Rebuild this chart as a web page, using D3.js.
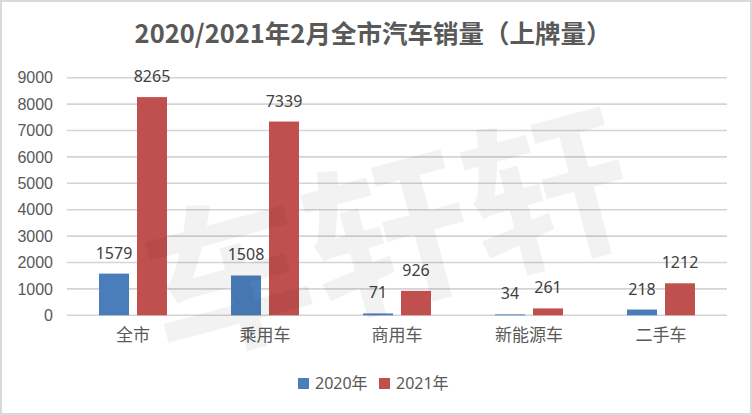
<!doctype html>
<html>
<head>
  <meta charset="utf-8">
  <title>2020/2021年2月全市汽车销量</title>
  <script src="https://cdnjs.cloudflare.com/ajax/libs/d3/7.8.5/d3.min.js"></script>
  <style>
    html, body { margin: 0; padding: 0; background: #fff; }
    svg { display: block; font-family: 'Noto Sans', 'Noto Sans CJK SC', sans-serif; }
    .y-axis text { fill: #595959; font-size: 16px; }
    .x-axis text { fill: #595959; font-size: 17px; font-family: 'Noto Sans CJK SC', sans-serif; }
    .value { fill: #404040; font-size: 16px; }
    .legend text { fill: #595959; font-size: 16px; }
  </style>
</head>
<body>
  <div id="chart"></div>
  <script>
    // data
    var categories = ['全市', '乘用车', '商用车', '新能源车', '二手车'];
    var series = ['2020年', '2021年'];
    var values2020 = [1579, 1508, 71, 34, 218];
    var values2021 = [8265, 7339, 926, 261, 1212];
    var yTicks = [0, 1000, 2000, 3000, 4000, 5000, 6000, 7000, 8000, 9000];
    var colors = ['#4a7ebb', '#c0504d'];

    var width = 752, height = 415;
    var margin = { top: 77, right: 25, bottom: 99, left: 67 };

    var rows = [];
    categories.forEach(function (c, i) {
      rows.push({ cat: c, s: series[0], v: values2020[i] });
      rows.push({ cat: c, s: series[1], v: values2021[i] });
    });

    var svg = d3.select('#chart').append('svg')
      .attr('width', width).attr('height', height);

    // frame
    svg.append('rect')
      .attr('x', 1).attr('y', 1)
      .attr('width', width - 2).attr('height', height - 2)
      .attr('fill', '#fff').attr('stroke', '#d9d9d9').attr('stroke-width', 2);

    var x0 = d3.scaleBand().domain(categories)
      .range([margin.left, width - margin.right])
      .paddingInner(0.485).paddingOuter(0.2425);
    var x1 = d3.scaleBand().domain(series)
      .range([0, x0.bandwidth()]).paddingInner(0.21);
    var y = d3.scaleLinear().domain([0, 9000])
      .range([height - margin.bottom - 0.7, margin.top + 0.7]);

    // gridlines
    svg.append('g').selectAll('line')
      .data(yTicks).join('line')
      .attr('x1', margin.left).attr('x2', width - margin.right)
      .attr('y1', d => y(d)).attr('y2', d => y(d))
      .attr('stroke', '#d4d4d4').attr('stroke-width', 1.6);

    // y axis
    svg.append('g').attr('class', 'y-axis')
      .attr('transform', 'translate(' + (margin.left - 9) + ',0)')
      .call(d3.axisLeft(y).tickValues(yTicks).tickFormat(d3.format('d')).tickSize(0).tickPadding(5))
      .call(g => g.select('.domain').remove());

    // x axis
    svg.append('g').attr('class', 'x-axis')
      .attr('transform', 'translate(0,' + (height - margin.bottom) + ')')
      .call(d3.axisBottom(x0).tickSize(0).tickPadding(13))
      .call(g => g.select('.domain').remove());

    // bars
    svg.append('g').selectAll('rect')
      .data(rows).join('rect')
      .attr('x', d => x0(d.cat) + x1(d.s))
      .attr('width', x1.bandwidth())
      .attr('y', d => y(d.v))
      .attr('height', d => y(0) - y(d.v))
      .attr('fill', d => colors[series.indexOf(d.s)]);

    // value labels
    svg.append('g').selectAll('text')
      .data(rows).join('text')
      .attr('class', 'value')
      .attr('x', d => x0(d.cat) + x1(d.s) + x1.bandwidth() / 2)
      .attr('y', d => y(d.v) - 15)
      .attr('text-anchor', 'middle')
      .text(d => d.v);

    // title
    svg.append('text')
      .attr('x', 373).attr('y', 43)
      .attr('text-anchor', 'middle')
      .attr('font-family', "'Noto Sans CJK SC', sans-serif")
      .attr('font-weight', 'bold')
      .attr('font-size', 25.5)
      .attr('fill', '#595959')
      .text('2020/2021年2月全市汽车销量（上牌量）');

    // legend
    var legend = svg.append('g').attr('class', 'legend')
      .attr('transform', 'translate(298,378)');
    var legendX = [0, 81];
    series.forEach(function (s, i) {
      var g = legend.append('g').attr('transform', 'translate(' + legendX[i] + ',0)');
      g.append('rect').attr('width', 11).attr('height', 11).attr('fill', colors[i]);
      g.append('text').attr('x', 17).attr('y', 11).text(s);
    });

    // watermark
    svg.append('text')
      .attr('transform', 'translate(385,225) rotate(-15)')
      .attr('text-anchor', 'middle')
      .attr('dominant-baseline', 'central')
      .attr('font-family', "'Noto Sans CJK SC', sans-serif")
      .attr('font-weight', 'bold')
      .attr('font-size', 165)
      .attr('fill', '#000')
      .attr('fill-opacity', 0.05)
      .attr('pointer-events', 'none')
      .text('车轩轩');
  </script>
</body>
</html>
